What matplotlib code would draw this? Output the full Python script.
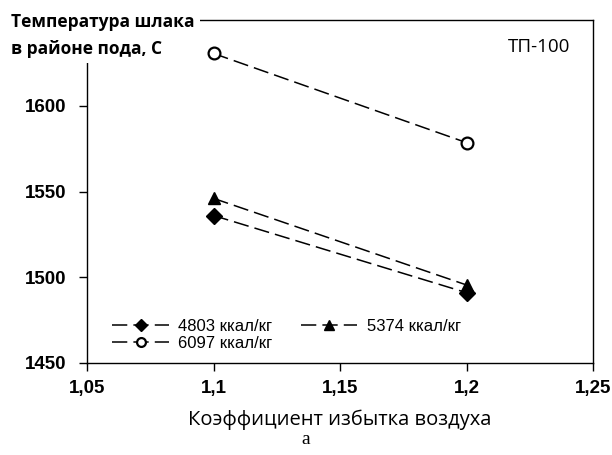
import matplotlib
matplotlib.use("Agg")
import matplotlib.pyplot as plt
from matplotlib import font_manager as fm

x_vals = [1.1, 1.2]
s4803 = [1536, 1491]
s5374 = [1546, 1495.5]
s6097 = [1630.5, 1578.5]
labels = ["4803 ккал/кг", "5374 ккал/кг", "6097 ккал/кг"]
xticks = [1.05, 1.1, 1.15, 1.2, 1.25]
xticklabels = ["1,05", "1,1", "1,15", "1,2", "1,25"]
yticks = [1450, 1500, 1550, 1600]


def exact_font(name, weight):
    for f in fm.fontManager.ttflist:
        if f.name == name and f.weight == weight and f.style == "normal":
            return fm.FontProperties(fname=f.fname)
    return fm.FontProperties(family=name, weight=weight)


fig = plt.figure(figsize=(6.12, 4.55), dpi=100)
ax = fig.add_axes([0.1422, 0.2022, 0.969 - 0.1422, 0.956 - 0.2022])

dash = (10, 4)
l1, = ax.plot(x_vals, s4803, color="black", lw=1.1, dashes=dash, marker="D", ms=8,
              mfc="black", mec="black")
l2, = ax.plot(x_vals, s5374, color="black", lw=1.1, dashes=dash, marker="^", ms=9,
              mfc="black", mec="black")
l3, = ax.plot(x_vals, s6097, color="black", lw=1.1, dashes=dash, marker="o", ms=8.5,
              mfc="white", mec="black", mew=1.6)

ax.set_xlim(1.05, 1.25)
ax.set_ylim(1450, 1650)
ax.set_xticks(xticks)
ax.set_xticklabels(xticklabels)
ax.set_yticks(yticks)
ax.tick_params(direction="out", length=6, width=1, labelsize=13.5)
ax.tick_params(axis="y", pad=9)
ax.tick_params(axis="x", pad=6)
for t in ax.get_xticklabels() + ax.get_yticklabels():
    t.set_fontfamily("Liberation Sans")
    t.set_fontweight("bold")
for s in ax.spines.values():
    s.set_linewidth(1.0)

ax.set_xlabel("Коэффициент избытка воздуха", fontsize=14.5, family="Open Sans",
              labelpad=9)

leg_prop = exact_font("Liberation Sans", 400)
leg_prop.set_size(12)
leg = ax.legend([l1, l3, l2], [labels[0], labels[2], labels[1]],
                loc="lower left", bbox_to_anchor=(0.05, 0.035),
                ncol=2, frameon=False, handlelength=3.4, markerscale=0.75,
                handletextpad=0.55, columnspacing=1.7, labelspacing=0.1,
                borderaxespad=0.0, borderpad=0.0, prop=leg_prop)

fig.text(0.018, 0.971, "Температура шлака\nв районе пода, С", fontsize=12.5,
         family="Open Sans", fontweight="bold", va="top", ha="left",
         linespacing=1.6,
         bbox=dict(facecolor="white", edgecolor="none", pad=4))

ax.text(0.955, 0.921, "ТП-100", transform=ax.transAxes, ha="right", va="center",
        fontsize=13.5, family="Open Sans")

fig.text(0.5, 0.033, "a", ha="center", va="center", fontsize=14,
         family="Liberation Serif")

fig.savefig("out.png", dpi=100)
